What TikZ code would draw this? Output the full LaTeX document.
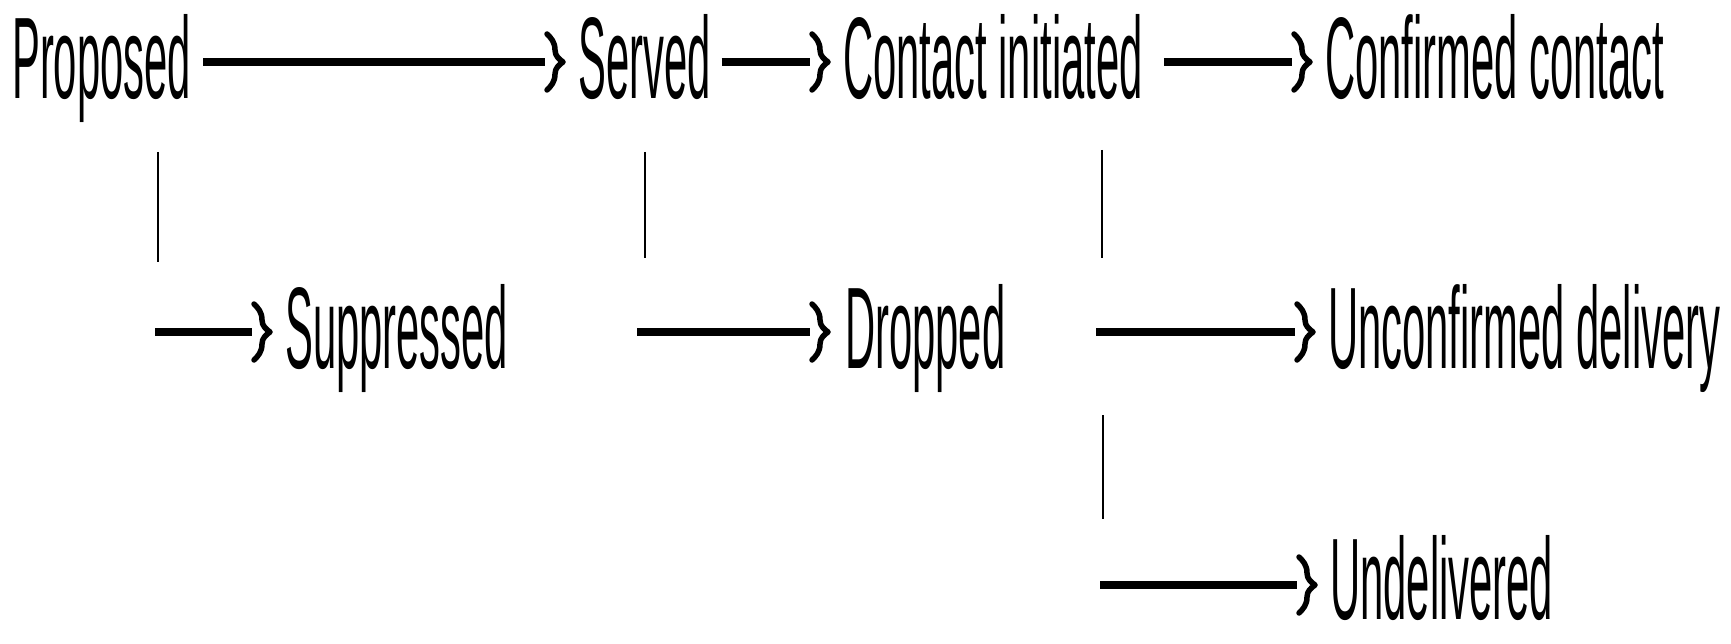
\documentclass[tikz,border=0pt]{standalone}
\usepackage{fontspec}
\newfontfamily\condfont[FakeStretch=0.36]{Liberation Sans}
\usetikzlibrary{calc}
\begin{document}
\begin{tikzpicture}[x=1pt,y=-1pt,
  lbl/.style={anchor=base west, inner sep=0pt, text depth=0pt, font=\condfont\fontsize{116}{120}\selectfont},
  conn/.style={line width=8.5pt},
  stem/.style={line width=2.8pt},
  chev/.pic={\draw[line width=5.5pt, line cap=round, line join=round] (2,-28) .. controls (6,-24) and (10,-20) .. (10,-12) .. controls (10,-6) and (14,-3) .. (18,0) .. controls (14,3) and (10,6) .. (10,12) .. controls (10,20) and (6,24) .. (2,28);}
]
\fill[white] (0,0) rectangle (1731,644);
\useasboundingbox (0,0) rectangle (1731,644);

% nodes
\node[lbl] (prop) at (12,99) {Proposed};
\node[lbl] (served) at (578,99) {Served};
\node[lbl] (contact) at (843,99) {Contact initiated};
\node[lbl] (confirmed) at (1325,99) {Confirmed contact};
\node[lbl] (supp) at (285,368) {Suppressed};
\node[lbl] (dropped) at (845,368) {Dropped};
\node[lbl] (unconf) at (1328,368) {Unconfirmed delivery};
\node[lbl] (undeliv) at (1330,619) {Undelivered};

% row 1 connectors
\draw[conn] ($(prop.base east)+(12,-37)$) -- ($(served.base west)+(-33,-37)$) coordinate (t1);
\pic at (t1) {chev};
\draw[conn] ($(served.base east)+(11,-37)$) -- ($(contact.base west)+(-33,-37)$) coordinate (t2);
\pic at (t2) {chev};
\draw[conn] ($(contact.base east)+(21,-37)$) -- ($(confirmed.base west)+(-33,-37)$) coordinate (t3);
\pic at (t3) {chev};

% Proposed -> Suppressed
\draw[stem] ($(prop.base west)+(146,53)$) -- ($(prop.base west)+(146,163)$);
\draw[conn] ($(prop.base west)+(143,233)$) -- ($(supp.base west)+(-33,-36)$) coordinate (t4);
\pic at (t4) {chev};

% Served -> Dropped
\draw[stem] ($(served.base west)+(67,53)$) -- ($(served.base west)+(67,159)$);
\draw[conn] ($(served.base west)+(59,233)$) -- ($(dropped.base west)+(-35,-36)$) coordinate (t5);
\pic at (t5) {chev};

% Contact initiated -> Unconfirmed delivery
\draw[stem] ($(contact.base west)+(259,51)$) -- ($(contact.base west)+(259,159)$);
\draw[conn] ($(contact.base west)+(253,233)$) -- ($(unconf.base west)+(-33,-36)$) coordinate (t6);
\pic at (t6) {chev};

% Contact initiated -> Undelivered
\draw[stem] ($(contact.base west)+(260,316)$) -- ($(contact.base west)+(260,420)$);
\draw[conn] ($(contact.base west)+(257,486)$) -- ($(undeliv.base west)+(-33,-34)$) coordinate (t7);
\pic at (t7) {chev};
\end{tikzpicture}
\end{document}
